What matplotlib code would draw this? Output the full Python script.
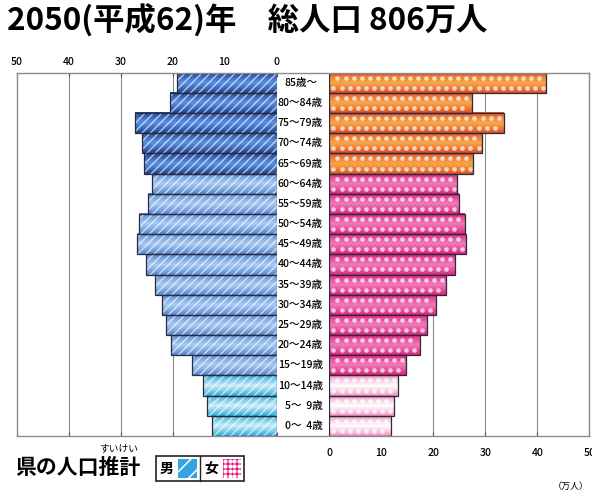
import numpy as np
import matplotlib
matplotlib.use('Agg')
import matplotlib.pyplot as plt
from matplotlib.colors import to_rgb
from matplotlib.patches import Rectangle
from matplotlib.lines import Line2D
from matplotlib.transforms import blended_transform_factory

plt.rcParams['font.family'] = ['Noto Sans CJK JP', 'DejaVu Sans']
plt.rcParams['hatch.linewidth'] = 1.1

# ---------------- data ----------------
age_labels = ["0～  4歳", "5～  9歳", "10～14歳", "15～19歳", "20～24歳", "25～29歳",
              "30～34歳", "35～39歳", "40～44歳", "45～49歳", "50～54歳", "55～59歳",
              "60～64歳", "65～69歳", "70～74歳", "75～79歳", "80～84歳", "85歳～"]
male = [12.5, 13.3, 14.2, 16.3, 20.3, 21.3, 22.0, 23.4, 25.1, 26.9, 26.4, 24.7,
        23.9, 25.5, 25.8, 27.3, 20.5, 19.1]
female = [11.9, 12.5, 13.3, 14.8, 17.4, 18.7, 20.5, 22.4, 24.2, 26.2, 26.0, 24.9,
          24.6, 27.6, 29.4, 33.6, 27.5, 41.7]
groups = ['young'] * 3 + ['work'] * 10 + ['old'] * 5
tick_values = [0, 10, 20, 30, 40, 50]
title = "2050(平成62)年　総人口 806万人"
subtitle = "県の人口推計"
ruby = "すいけい"
unit = "（万人）"

# ---------------- styles ----------------
male_cols = {'old': ('#183a88', '#5890e4'), 'work': ('#4c80cc', '#a8caf2'),
             'young': ('#1fa3d6', '#c6ecfa')}
female_cols = {'old': ('#dd4a25', '#f9a848'), 'work': ('#d81d78', '#f27ab6'),
               'young': ('#ee8cbf', '#ffffff')}

W, H = 592, 493
fig = plt.figure(figsize=(W / 100, H / 100), dpi=100)


def rect(x0, x1, y0, y1):
    return [x0 / W, 1 - y1 / H, (x1 - x0) / W, (y1 - y0) / H]


TOP, BOT = 72.7, 436.0
axL = fig.add_axes(rect(16.7, 276.5, TOP, BOT))
axR = fig.add_axes(rect(329.3, 589.3, TOP, BOT))
frame = fig.add_axes(rect(16.7, 589.3, TOP, BOT), zorder=10)
frame.set_facecolor('none')
frame.set_xticks([]); frame.set_yticks([])
for s in frame.spines.values():
    s.set_color('#8a8a8a'); s.set_linewidth(1.0)


def gradient_img(edge, mid):
    e = np.array(to_rgb(edge)); m = np.array(to_rgb(mid))
    t = np.linspace(0, 1, 64)
    w = (1 - np.abs(2 * t - 1)) ** 0.8
    img = e[None, :] * (1 - w[:, None]) + m[None, :] * w[:, None]
    return img[:, None, :]


y = np.arange(len(age_labels))

for ax, vals, cols, side in [(axL, male, male_cols, 'L'), (axR, female, female_cols, 'R')]:
    ax.set_facecolor('white')
    bars = ax.barh(y, vals, height=1.0, color='none', linewidth=0, zorder=2)
    for b, g in zip(bars, groups):
        edge, mid = cols[g]
        ax.imshow(gradient_img(edge, mid),
                  extent=(b.get_x(), b.get_x() + b.get_width(), b.get_y(), b.get_y() + b.get_height()),
                  aspect='auto', origin='lower', zorder=2, interpolation='bilinear')
    if side == 'L':
        ax.barh(y, vals, height=1.0, facecolor='none', edgecolor=(1, 1, 1, 0.6),
                hatch='////', linewidth=0, zorder=3)
    else:
        xs_step = 1.55
        px, py = [], []
        for yi, v in zip(y, vals):
            for k, dy in enumerate((-0.25, 0.25)):
                off = 0.8 + (0.77 if k == 1 else 0.0)
                xs = np.arange(off, v - 0.4, xs_step)
                px.extend(xs); py.extend([yi + dy] * len(xs))
        ax.scatter(px, py, s=11, color=(1, 1, 1, 0.7), linewidths=0, zorder=3)
    ax.barh(y, vals, height=1.0, fill=False, edgecolor='#2a2a3a', linewidth=0.9, zorder=4)
    for gx in (10, 20, 30, 40):
        ax.axvline(gx, color='#8a8a8a', linewidth=0.8, zorder=1)
    ax.set_ylim(-0.5, len(age_labels) - 0.5)
    ax.set_yticks([])
    for s in ax.spines.values():
        s.set_visible(False)
    ax.set_xticks(tick_values)
    ax.set_xticklabels([str(v) for v in tick_values])

axL.set_xlim(50, 0)
axR.set_xlim(0, 50)
axL.tick_params(axis='x', top=True, bottom=True, direction='in', length=3, color='#555555',
                labeltop=True, labelbottom=False, labelsize=7.5, pad=4)
axR.tick_params(axis='x', top=True, bottom=True, direction='in', length=3, color='#555555',
                labeltop=False, labelbottom=True, labelsize=7.5, pad=9)
for lab in axL.get_xticklabels() + axR.get_xticklabels():
    lab.set_fontweight('medium')

# age labels in the centre column
tr = blended_transform_factory(fig.transFigure, axL.transData)
for yi, lab in zip(y, age_labels):
    if lab.endswith('～'):
        fig.text(284.3 / W, yi, lab, transform=tr, ha='left', va='center', fontsize=7.6,
                 fontweight='medium')
    else:
        fig.text(322.7 / W, yi, lab, transform=tr, ha='right', va='center', fontsize=7.6,
                 fontweight='medium')

# title
fig.text(7 / W, 1 - 21 / H, title, fontsize=22.6, fontweight='bold', va='center', ha='left')

# bottom-left caption with ruby
fig.text(15 / W, 1 - 467 / H, subtitle, fontsize=15, fontweight='bold', va='center', ha='left')
fig.text(119 / W, 1 - 448 / H, ruby, fontsize=7, va='center', ha='center')

# legend box
fig.add_artist(Rectangle((155.5 / W, 1 - 481 / H), (244 - 155.5) / W, (481 - 455.7) / H,
                         transform=fig.transFigure, fill=False, edgecolor='#222222', linewidth=1.2))
fig.add_artist(Line2D([200 / W, 200 / W], [1 - 481 / H, 1 - 455.7 / H],
                      transform=fig.transFigure, color='#222222', linewidth=1.0))
fig.text(167 / W, 1 - 468.5 / H, "男", fontsize=10, fontweight='bold', va='center', ha='center')
fig.text(211.5 / W, 1 - 468.5 / H, "女", fontsize=10, fontweight='bold', va='center', ha='center')
axM = fig.add_axes(rect(178, 197, 458.5, 478))
axM.add_patch(Rectangle((0, 0), 1, 1, facecolor='#33a3e3', edgecolor='white', hatch='//', linewidth=0))
axM.set_xlim(0, 1); axM.set_ylim(0, 1); axM.axis('off')
axF = fig.add_axes(rect(222.5, 241.5, 458.5, 478))
axF.add_patch(Rectangle((0, 0), 1, 1, facecolor='#e8147e', linewidth=0))
gx, gy = np.meshgrid(np.arange(0.12, 1.0, 0.25), np.arange(0.12, 1.0, 0.25))
axF.scatter(gx.ravel(), gy.ravel(), s=9, color='white', linewidths=0)
axF.set_xlim(0, 1); axF.set_ylim(0, 1); axF.axis('off')

fig.text(553 / W, 1 - 486 / H, unit, fontsize=6.5, va='center', ha='left')

fig.savefig('out.png', dpi=100)
